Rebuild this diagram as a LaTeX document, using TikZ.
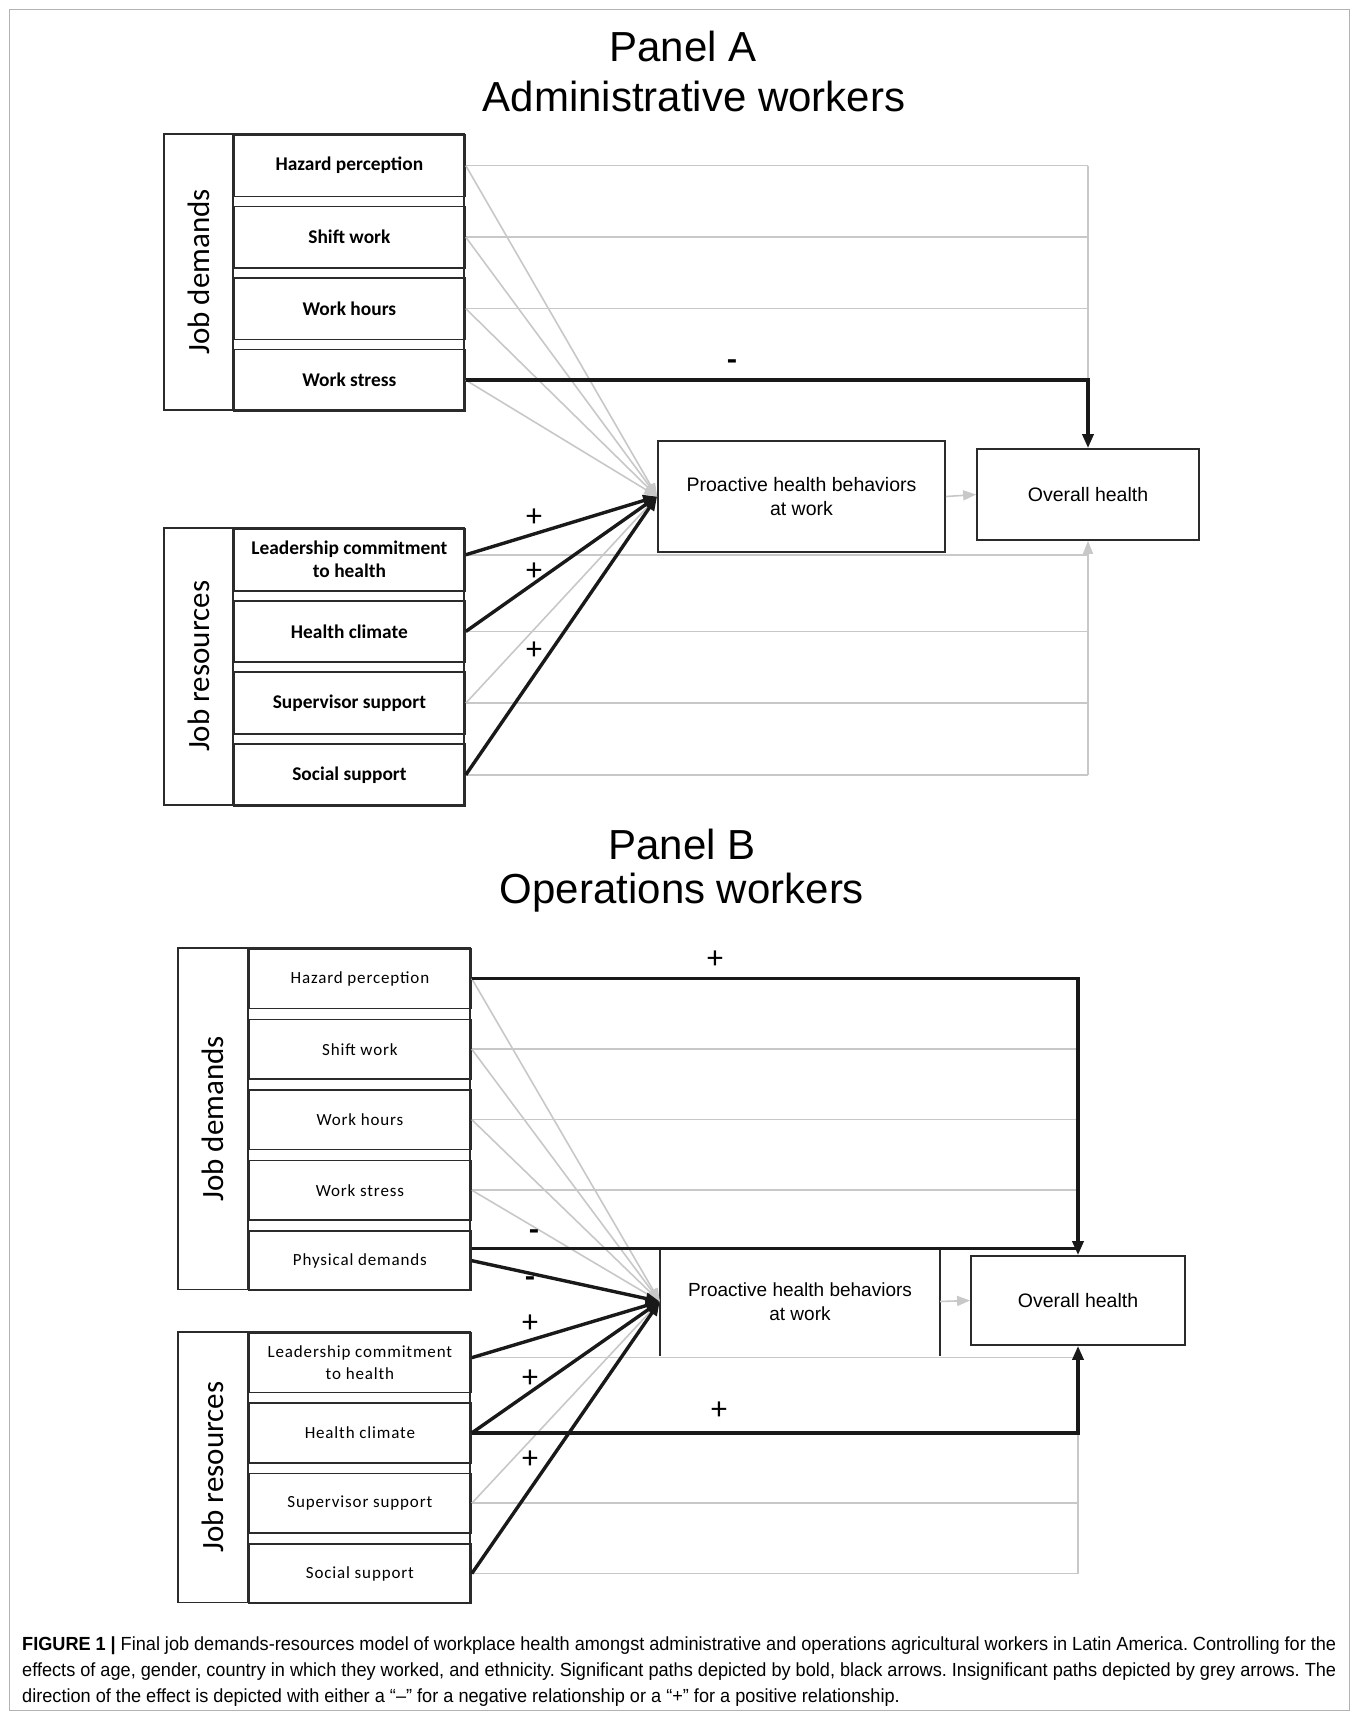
\documentclass[tikz,border=0pt]{standalone}
\usepackage{fontspec}
\setmainfont{Liberation Sans}
\newfontfamily\calA{Carlito}
\newfontfamily\calB[LetterSpace=5]{Carlito}
\newfontfamily\capfont[FakeStretch=0.955]{Liberation Sans}
\usetikzlibrary{arrows.meta}
\definecolor{bc}{HTML}{2B2B2B}
\definecolor{glc}{HTML}{C8C8C8}
\tikzset{
  grp/.style={draw=bc, line width=1.8pt},
  itA/.style={draw=bc, line width=1.8pt, minimum width=231pt, minimum height=61.7pt, inner sep=0pt, anchor=north west, align=center, font=\calA\bfseries\fontsize{19.4}{23}\selectfont},
  itB/.style={draw=bc, line width=1.8pt, minimum width=222pt, minimum height=59.5pt, inner sep=0pt, anchor=north west, align=center, font=\calB\fontsize{17}{22}\selectfont},
  gline/.style={draw=glc, line width=1.6pt},
  garr/.style={draw=glc, line width=1.6pt, -{Triangle[length=13pt,width=10pt]}},
  bline/.style={draw=black!90, line width=3.4pt, line join=miter},
  barr/.style={draw=black!90, line width=3.4pt, line join=miter, -{Triangle[length=14pt,width=11pt]}},
  sign/.style={font=\calA\fontsize{32}{32}\selectfont},
  ttl/.style={font=\fontsize{42}{50}\selectfont},
  grpl/.style={rotate=90, font=\calA\fontsize{31}{36}\selectfont},
  mbox/.style={draw=bc, line width=1.8pt, align=center, font=\fontsize{19.5}{24}\selectfont, inner sep=0pt},
  captxt/.style={anchor=base west, inner sep=0pt, font=\capfont\fontsize{19}{26}\selectfont}
}
\begin{document}
\frenchspacing
\begin{tikzpicture}[x=1pt,y=-1pt]
\fill[white] (0,0) rectangle (1358,1719);
\useasboundingbox (0,0) rectangle (1358,1719);
\draw[gray!60, line width=1pt] (9,9) rectangle (1349,1710);

% ---------------- Panel A ----------------
\node[ttl] (tA1) at (683,46) {Panel A};
\node[ttl] (tA2) at (694,96) {Administrative workers};

\draw[grp] (164,134) rectangle (464,410);
\draw[grp] (233,134) -- (233,410);
\node[grpl] (jdA) at (198.5,272) {Job demands};
\node[itA, minimum height=61.5pt] (hzA) at (233,134) {Hazard perception};
\node[itA, minimum height=61.5pt] (swA) at (233,205.5) {Shift work};
\node[itA, minimum height=61.5pt] (whA) at (233,277) {Work hours};
\node[itA, minimum height=61.5pt] (wsA) at (233,348.5) {Work stress};

\draw[grp] (164,528) rectangle (464,804.8);
\draw[grp] (233,528) -- (233,804.8);
\node[grpl] (jrA) at (198.5,666.4) {Job resources};
\node[itA] (ldA) at (233,528) {Leadership commitment\\to health};
\node[itA] (hcA) at (233,599.7) {Health climate};
\node[itA] (ssA) at (233,671.4) {Supervisor support};
\node[itA] (soA) at (233,743.1) {Social support};

\node[mbox, minimum width=287pt, minimum height=111pt] (pbA) at (801.5,496.5) {Proactive health behaviors\\at work};
\node[mbox, minimum width=222pt, minimum height=91pt] (ohA) at (1088,494.5) {Overall health};

% grey paths A
\foreach \n in {hzA,swA,whA} \draw[gline] (\n.east) -- (\n.east -| ohA.north);
\draw[gline] (hzA.east -| ohA.north) -- (wsA.east -| ohA.north);
\draw[gline] ([yshift=5pt]ldA.east) -- ([yshift=5pt]ldA.east -| ohA.south);
\foreach \n in {hcA,ssA,soA} \draw[gline] (\n.east) -- (\n.east -| ohA.south);
\draw[garr] (soA.east -| ohA.south) -- (ohA.south);
\foreach \n in {hzA,swA,whA,wsA,ssA} \draw[garr] (\n.east) -- (pbA.west);
\draw[garr] (pbA.east) -- (ohA.west);
% black paths A
\draw[barr] (wsA.east) -- (wsA.east -| ohA.north) -- (ohA.north);
\draw[barr] ([yshift=5pt]ldA.east) -- (pbA.west);
\foreach \n in {hcA,soA} \draw[barr] (\n.east) -- (pbA.west);
\node[sign] (sA1) at (732,365) {\bfseries -};
\node[sign] (sA2) at (534,518) {+};
\node[sign] (sA3) at (534,572) {+};
\node[sign] (sA4) at (534,651) {+};

% ---------------- Panel B ----------------
\node[ttl] (tB1) at (682,844) {Panel B};
\node[ttl] (tB2) at (682,893) {Operations workers};

\draw[grp] (178,948) rectangle (470,1289.5);
\draw[grp] (248,948) -- (248,1289.5);
\node[grpl] (jdB) at (213,1118.75) {Job demands};
\node[itB] (hzB) at (248,948) {Hazard perception};
\node[itB] (swB) at (248,1018.5) {Shift work};
\node[itB] (whB) at (248,1089) {Work hours};
\node[itB] (wsB) at (248,1159.5) {Work stress};
\node[itB] (pdB) at (248,1230) {Physical demands};

\draw[grp] (178,1332) rectangle (470,1602.4);
\draw[grp] (248,1332) -- (248,1602.4);
\node[grpl] (jrB) at (213,1467.2) {Job resources};
\node[itB] (ldB) at (248,1332) {Leadership commitment\\to health};
\node[itB] (hcB) at (248,1402.3) {Health climate};
\node[itB] (ssB) at (248,1472.6) {Supervisor support};
\node[itB] (soB) at (248,1542.9) {Social support};

\node[align=center, inner sep=0pt, minimum width=280pt, minimum height=109pt, font=\fontsize{19}{24}\selectfont] (pbB) at (800,1301.5) {Proactive health behaviors\\at work};
\draw[draw=bc, line width=1.8pt] (pbB.north west) -- (pbB.south west);
\draw[draw=bc, line width=1.8pt] (pbB.north east) -- (pbB.south east);
\node[mbox, minimum width=214pt, minimum height=89pt] (ohB) at (1078,1300.5) {Overall health};

% grey paths B
\foreach \n in {swB,whB,wsB} \draw[gline] (\n.east) -- (\n.east -| ohB.north);
\draw[gline] ([yshift=5pt]ldB.east) -- ([yshift=5pt]ldB.east -| ohB.south);
\foreach \n in {ssB,soB} \draw[gline] (\n.east) -- (\n.east -| ohB.south);
\draw[gline] (soB.east -| ohB.south) -- (hcB.east -| ohB.south);
\foreach \n in {hzB,swB,whB,wsB,ssB} \draw[garr] (\n.east) -- (pbB.west);
\draw[garr] (pbB.east) -- (ohB.west);
% black paths B
\draw[barr] (hzB.east) -- (hzB.east -| ohB.north) -- (ohB.north);
\draw[bline] ([yshift=12pt]pdB.east) -- ([yshift=12pt]pdB.east -| ohB.north);
\draw[barr] ([yshift=5pt]ldB.east) -- (pbB.west);
\foreach \n in {pdB,hcB,soB} \draw[barr] (\n.east) -- (pbB.west);
\draw[barr] (hcB.east) -- (hcB.east -| ohB.south) -- (ohB.south);
\node[sign] (sB1) at (715,960) {+};
\node[sign] (sB2) at (719,1411) {+};
\node[sign] (sB3) at (534,1235) {\bfseries -};
\node[sign] (sB4) at (530,1282) {\bfseries -};
\node[sign] (sB5) at (530,1324) {+};
\node[sign] (sB6) at (530,1379) {+};
\node[sign] (sB7) at (530,1460) {+};

% ---------------- Caption ----------------
\node[captxt] (c1) at (22,1650) {\makebox[1314pt][s]{\textbf{FIGURE 1 |} Final job demands-resources model of workplace health amongst administrative and operations agricultural workers in Latin America. Controlling for the}};
\node[captxt] (c2) at (22,1676) {\makebox[1314pt][s]{effects of age, gender, country in which they worked, and ethnicity. Significant paths depicted by bold, black arrows. Insignificant paths depicted by grey arrows. The}};
\node[captxt] (c3) at (22,1702) {direction of the effect is depicted with either a “–” for a negative relationship or a “+” for a positive relationship.};
\end{tikzpicture}
\end{document}
